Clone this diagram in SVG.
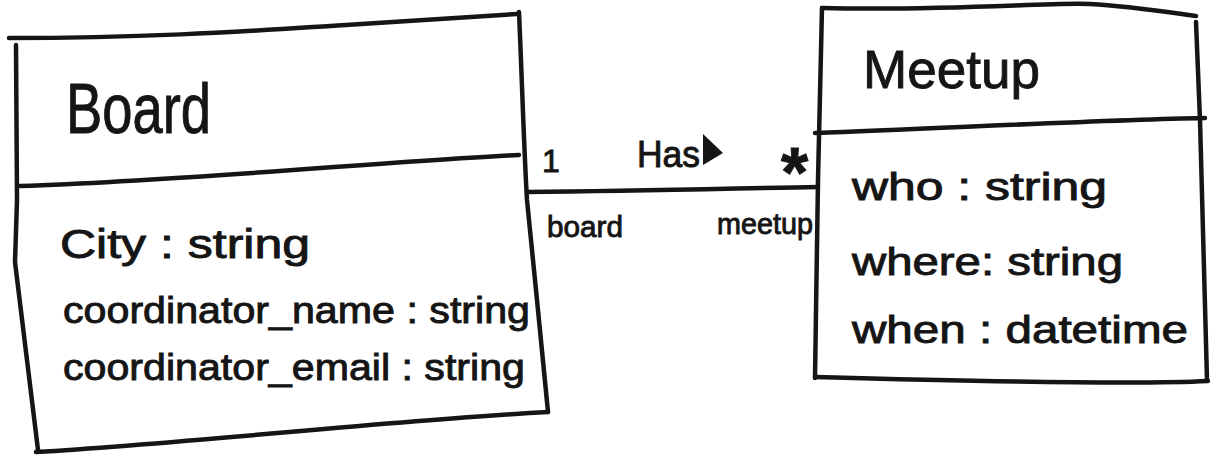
<svg xmlns="http://www.w3.org/2000/svg" width="1219" height="455" viewBox="0 0 1219 455">
<style>
.ln{fill:none;stroke:#151515;stroke-width:4.5;stroke-linecap:round;stroke-linejoin:round}
.t{font-family:"Liberation Sans",Arial,sans-serif;fill:#151515;stroke:#151515;stroke-width:0.9}
</style>
<rect width="1219" height="455" fill="#ffffff"/>
<g id="board">
<path class="ln" d="M9,38 C150,38 250,31 330,26 S480,16 517,14"/>
<path class="ln" d="M519,12 C522,80 524,150 527,200 L537,300 L548,412"/>
<path class="ln" d="M548,412 C400,420 200,442 36,452"/>
<path class="ln" d="M16,45 L17,200 L15,262 L38,450"/>
<path class="ln" d="M20,186 C200,180 400,160 519,155"/>
<text class="t" x="66" y="133" font-size="70" textLength="145" lengthAdjust="spacingAndGlyphs">Board</text>
<text class="t" x="60" y="258" font-size="40" textLength="250" lengthAdjust="spacingAndGlyphs">City : string</text>
<text class="t" x="63" y="323" font-size="36" textLength="467" lengthAdjust="spacingAndGlyphs">coordinator_name : string</text>
<text class="t" x="63" y="380" font-size="36" textLength="462" lengthAdjust="spacingAndGlyphs">coordinator_email : string</text>
</g>
<g id="meetup">
<path class="ln" d="M822,8 C950,11 1050,2 1090,4 S1180,14 1196,16"/>
<path class="ln" d="M1196,22 L1200,120 L1207,380"/>
<path class="ln" d="M815,377 C1000,382 1150,384 1208,381"/>
<path class="ln" d="M822,8 L818,180 L815,378"/>
<path class="ln" d="M815,133 C950,128 1100,120 1205,118"/>
<text class="t" x="863" y="88" font-size="54" textLength="177" lengthAdjust="spacingAndGlyphs">Meetup</text>
<text class="t" x="852" y="200" font-size="38" textLength="255" lengthAdjust="spacingAndGlyphs">who : string</text>
<text class="t" x="852" y="275" font-size="38" textLength="271" lengthAdjust="spacingAndGlyphs">where: string</text>
<text class="t" x="852" y="343" font-size="38" textLength="336" lengthAdjust="spacingAndGlyphs">when : datetime</text>
</g>
<g id="connectors">
<path class="ln" d="M527,192 C650,191 750,188 818,187"/>
<text class="t" x="542" y="172" font-size="32">1</text>
<text class="t" x="637" y="167" font-size="36" textLength="63" lengthAdjust="spacingAndGlyphs">Has</text>
<polygon points="703,134 723,153 703,165" fill="#151515"/>
<text class="t" x="781" y="197" font-size="70" font-weight="bold">*</text>
<text class="t" x="547" y="237" font-size="30" textLength="76" lengthAdjust="spacingAndGlyphs">board</text>
<text class="t" x="717" y="234" font-size="30" textLength="96" lengthAdjust="spacingAndGlyphs">meetup</text>
</g>
</svg>
